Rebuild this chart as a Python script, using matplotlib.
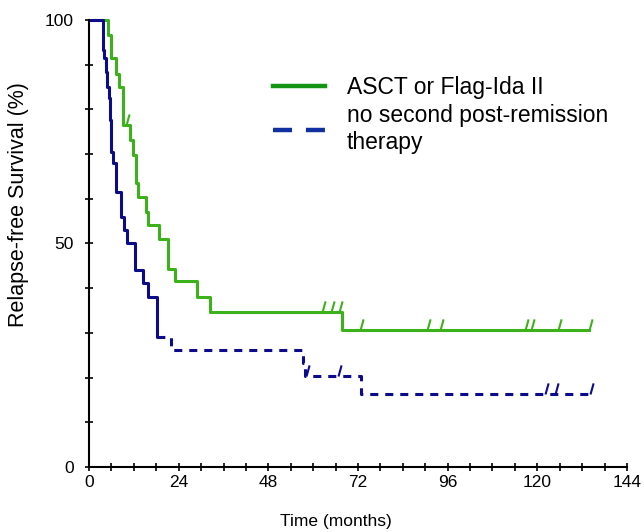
# -*- coding: utf-8 -*-
import numpy as np
import matplotlib
matplotlib.use('Agg')
from matplotlib import pyplot as plt
from matplotlib.lines import Line2D
from matplotlib.path import Path

plt.rcParams['font.family'] = ['Liberation Sans', 'DejaVu Sans']
plt.rcParams['lines.scale_dashes'] = False

# ASCT or Flag-Ida II : event times (months) and survival after each step (%)
green_t = [0, 5.2, 5.9, 7.1, 8.0, 9.2, 11.0, 11.9, 12.5, 13.2, 15.2, 15.9, 18.7, 21.1, 23.0, 29.0, 32.4, 67.6]
green_s = [100, 96.6, 91.4, 88.0, 85.0, 76.5, 73.2, 69.8, 63.5, 60.4, 57.1, 54.1, 50.9, 44.4, 41.5, 38.1, 34.7, 30.6]
green_end = 133.9
green_cens = [9.9, 62.3, 64.8, 67.0, 72.5, 90.4, 94.0, 116.7, 118.3, 125.6, 133.9]

# no second post-remission therapy
blue_t = [0, 3.8, 4.1, 4.6, 4.8, 5.3, 5.5, 5.7, 5.8, 6.0, 6.4, 7.2, 8.5, 9.3, 10.1, 12.2, 12.4, 14.5, 15.8, 18.1,
          21.9, 57.2, 57.9, 72.8]
blue_s = [100, 93.4, 91.4, 88.4, 85.0, 82.5, 80.6, 77.6, 73.9, 70.5, 67.9, 61.6, 56.0, 53.0, 50.0, 47.0, 44.1, 41.1,
          38.1, 29.1, 26.2, 23.3, 20.4, 16.3]
blue_end = 134.1
blue_cens = [58.2, 66.6, 122.1, 124.7, 134.1]
blue_solid_until = 19.9

labels = ['ASCT or Flag-Ida II', 'no second post-remission\ntherapy']
x_ticks = [0, 24, 48, 72, 96, 120, 144]
y_ticks = [0, 50, 100]

green = '#3cb21a'
blue = '#0c0c8a'


def level_at(t, s, x):
    idx = np.searchsorted(t, x, side='right') - 1
    return np.array(s)[idx]


def steps(t, s, end):
    x = list(t) + [end]
    y = list(s) + [s[-1]]
    return x, y


tick_marker = Path([(0, 0), (0.28, 1.0)], [Path.MOVETO, Path.LINETO])

fig = plt.figure(figsize=(6.44, 5.32), dpi=100)
ax = fig.add_axes([0.1382, 0.1222, 0.8354, 0.8402])

# green curve
gx, gy = steps(green_t, green_s, green_end)
ax.step(gx, gy, where='post', color=green, lw=2.2, clip_on=False)
ax.plot(green_cens, level_at(green_t, green_s, green_cens), ls='none', marker=tick_marker, ms=16,
        mec=green, mew=1.5, clip_on=False)

# blue curve: solid in the steep part, dashed afterwards
bx, by = steps(blue_t, blue_s, blue_end)
bx = np.array(bx)
by = np.array(by)
k = np.searchsorted(bx, blue_solid_until)
sx = list(bx[:k]) + [blue_solid_until]
sy = list(by[:k]) + [by[k - 1]]
dx = [blue_solid_until] + list(bx[k:])
dy = [by[k - 1]] + list(by[k:])
ax.step(sx, sy, where='post', color=blue, lw=2.2, clip_on=False)
ax.step(dx, dy, where='post', color=blue, lw=2.2, ls=(4.5, (5.8, 5.0)), clip_on=False)
ax.plot(blue_cens, level_at(blue_t, blue_s, blue_cens), ls='none', marker=tick_marker, ms=16,
        mec=blue, mew=1.5, clip_on=False)

ax.set_xlim(0, 144)
ax.set_ylim(0, 100)
ax.set_xticks(x_ticks)
ax.set_xticks(np.arange(0, 145, 6), minor=True)
ax.set_yticks(y_ticks)
ax.set_yticks(np.arange(0, 101, 10), minor=True)
ax.spines['top'].set_visible(False)
ax.spines['right'].set_visible(False)
ax.spines['left'].set_linewidth(1.5)
ax.spines['bottom'].set_linewidth(1.5)
ax.tick_params(which='both', direction='inout', length=6, width=1.2, labelsize=12.5)
ax.tick_params(axis='x', pad=3)
ax.tick_params(axis='y', pad=8)

ax.set_xlabel('Time (months)', fontsize=12.5)
ax.set_ylabel('Relapse-free Survival (%)', fontsize=15.5)
ax.xaxis.set_label_coords(0.459, -0.105)
ax.yaxis.set_label_coords(-0.112, 0.586)

handles = [Line2D([], [], color='#149414', lw=3.2),
           Line2D([], [], color='#1030a0', lw=3.2, ls=(0, (13.7, 10.0)))]
ax.legend(handles, labels, loc='upper left', bbox_to_anchor=(0.342, 0.875), frameon=False, fontsize=16.5,
          handlelength=2.27, handletextpad=0.96, borderpad=0, borderaxespad=0, labelspacing=0.22)

fig.savefig('out.png', dpi=100)
